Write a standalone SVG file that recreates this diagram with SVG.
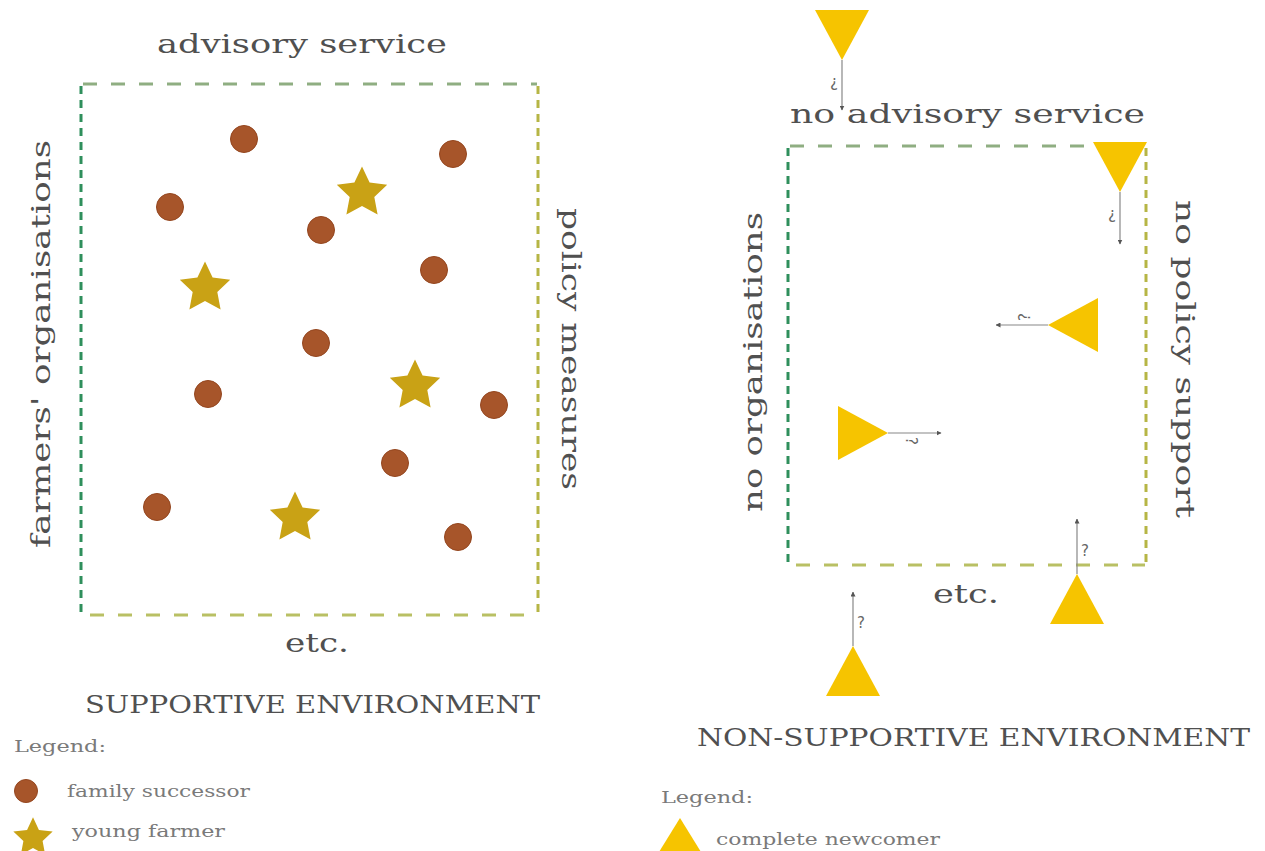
<svg xmlns="http://www.w3.org/2000/svg" width="1265" height="851" viewBox="0 0 1265 851">
<style>
.lbl{font-family:"DejaVu Serif","Liberation Serif",serif;font-size:26px;fill:#505050;}
.cap{font-family:"DejaVu Serif","Liberation Serif",serif;font-size:25px;fill:#505050;}
.leg{font-family:"DejaVu Serif","Liberation Serif",serif;font-size:16px;fill:#7a7a7a;}
.q{font-family:"DejaVu Sans","Liberation Sans",sans-serif;font-size:15px;fill:#666;}
.fs{fill:#a7552a;stroke:#94461f;stroke-width:1;}
.yf{fill:#c9a215;}
.cn{fill:#f6c400;}
.arr{stroke:#888;stroke-width:1.2;fill:none;marker-end:url(#ah);}
.dh{stroke-width:3;stroke-dasharray:14 14;fill:none;}
.dv{stroke-width:3;stroke-dasharray:8 6;fill:none;}
</style>
<defs>
<marker id="ah" viewBox="0 0 10 10" refX="9" refY="5" markerWidth="5" markerHeight="5" orient="auto" markerUnits="userSpaceOnUse">
<path d="M0,0 L10,5 L0,10 z" fill="#555"/>
</marker>
<polygon id="star" points="0,-26.5 7.6,-10.4 25.2,-8.2 12.3,4 15.6,21.4 0,12.9 -15.6,21.4 -12.3,4 -25.2,-8.2 -7.6,-10.4"/>
<polygon id="tri" points="0,0 27,50 -27,50"/>
</defs>
<rect width="1265" height="851" fill="#fff"/>

<g id="frame-left">
<line class="dh" x1="83" y1="84" x2="537" y2="84" stroke="#8fae82"/>
<line class="dv" x1="81" y1="86" x2="81" y2="615" stroke="#2f8f5c"/>
<line class="dv" x1="538" y1="86" x2="538" y2="615" stroke="#b6b545"/>
<line class="dh" x1="90" y1="615" x2="537" y2="615" stroke="#b9c064"/>
</g>

<g id="labels-left">
<text class="lbl" x="157" y="53" textLength="290" lengthAdjust="spacingAndGlyphs">advisory service</text>
<text class="lbl" transform="translate(50,548) rotate(-90)" textLength="408" lengthAdjust="spacingAndGlyphs">farmers' organisations</text>
<text class="lbl" transform="translate(562,208) rotate(90)" textLength="282" lengthAdjust="spacingAndGlyphs">policy measures</text>
<text class="lbl" x="285" y="652" textLength="64" lengthAdjust="spacingAndGlyphs">etc.</text>
<text class="cap" x="85" y="713" textLength="455" lengthAdjust="spacingAndGlyphs">SUPPORTIVE ENVIRONMENT</text>
</g>

<g id="family-successors">
<circle class="fs" cx="244" cy="139" r="13.5"/>
<circle class="fs" cx="453" cy="154" r="13.5"/>
<circle class="fs" cx="170" cy="207" r="13.5"/>
<circle class="fs" cx="321" cy="230" r="13.5"/>
<circle class="fs" cx="434" cy="270" r="13.5"/>
<circle class="fs" cx="316" cy="343" r="13.5"/>
<circle class="fs" cx="208" cy="394" r="13.5"/>
<circle class="fs" cx="494" cy="405" r="13.5"/>
<circle class="fs" cx="395" cy="463" r="13.5"/>
<circle class="fs" cx="157" cy="507" r="13.5"/>
<circle class="fs" cx="458" cy="537" r="13.5"/>
</g>

<g id="young-farmers">
<use href="#star" class="yf" x="362" y="193"/>
<use href="#star" class="yf" x="205" y="288"/>
<use href="#star" class="yf" x="415" y="386"/>
<use href="#star" class="yf" x="295" y="518"/>
</g>

<g id="legend-left">
<text class="leg" x="14" y="752" textLength="92" lengthAdjust="spacingAndGlyphs">Legend:</text>
<circle class="fs" cx="26" cy="791" r="11.5"/>
<text class="leg" x="67" y="797" textLength="183" lengthAdjust="spacingAndGlyphs">family successor</text>
<use href="#star" class="yf" transform="translate(33,838) scale(0.78)"/>
<text class="leg" x="72" y="837" textLength="153" lengthAdjust="spacingAndGlyphs">young farmer</text>
</g>

<g id="frame-right">
<line class="dh" x1="790" y1="146" x2="1145" y2="146" stroke="#8fae82"/>
<line class="dv" x1="788" y1="148" x2="788" y2="565" stroke="#2f8f5c"/>
<line class="dv" x1="1146" y1="148" x2="1146" y2="565" stroke="#b6b545"/>
<line class="dh" x1="796" y1="565" x2="1145" y2="565" stroke="#b9c064"/>
</g>

<g id="labels-right">
<text class="lbl" x="790" y="123" textLength="355" lengthAdjust="spacingAndGlyphs">no advisory service</text>
<text class="lbl" transform="translate(762,512) rotate(-90)" textLength="300" lengthAdjust="spacingAndGlyphs">no organisations</text>
<text class="lbl" transform="translate(1176,200) rotate(90)" textLength="318" lengthAdjust="spacingAndGlyphs">no policy support</text>
<text class="lbl" x="933" y="603" textLength="66" lengthAdjust="spacingAndGlyphs">etc.</text>
<text class="cap" x="697" y="746" textLength="553" lengthAdjust="spacingAndGlyphs">NON-SUPPORTIVE ENVIRONMENT</text>
</g>

<g id="newcomers">
<g id="nc1" transform="translate(842,60) rotate(180)">
<use href="#tri" class="cn"/><line class="arr" x1="0" y1="0" x2="0" y2="-50"/><text class="q" x="8" y="-18" text-anchor="middle">?</text>
</g>
<g id="nc2" transform="translate(1120,192) rotate(180)">
<use href="#tri" class="cn"/><line class="arr" x1="0" y1="0" x2="0" y2="-52"/><text class="q" x="8" y="-18" text-anchor="middle">?</text>
</g>
<g id="nc3" transform="translate(1048,325) rotate(-90)">
<use href="#tri" class="cn"/><line class="arr" x1="0" y1="0" x2="0" y2="-52"/><text class="q" x="8" y="-18" text-anchor="middle">?</text>
</g>
<g id="nc4" transform="translate(888,433) rotate(90)">
<use href="#tri" class="cn"/><line class="arr" x1="0" y1="0" x2="0" y2="-53"/><text class="q" x="8" y="-18" text-anchor="middle">?</text>
</g>
<g id="nc5" transform="translate(1077,574) rotate(0)">
<use href="#tri" class="cn"/><line class="arr" x1="0" y1="0" x2="0" y2="-55"/><text class="q" x="8" y="-18" text-anchor="middle">?</text>
</g>
<g id="nc6" transform="translate(853,646) rotate(0)">
<use href="#tri" class="cn"/><line class="arr" x1="0" y1="0" x2="0" y2="-54"/><text class="q" x="8" y="-18" text-anchor="middle">?</text>
</g>
</g>

<g id="legend-right">
<text class="leg" x="661" y="803" textLength="92" lengthAdjust="spacingAndGlyphs">Legend:</text>
<polygon class="cn" points="680,818 701,852 659,852"/>
<text class="leg" x="716" y="845" textLength="224" lengthAdjust="spacingAndGlyphs">complete newcomer</text>
</g>
</svg>
